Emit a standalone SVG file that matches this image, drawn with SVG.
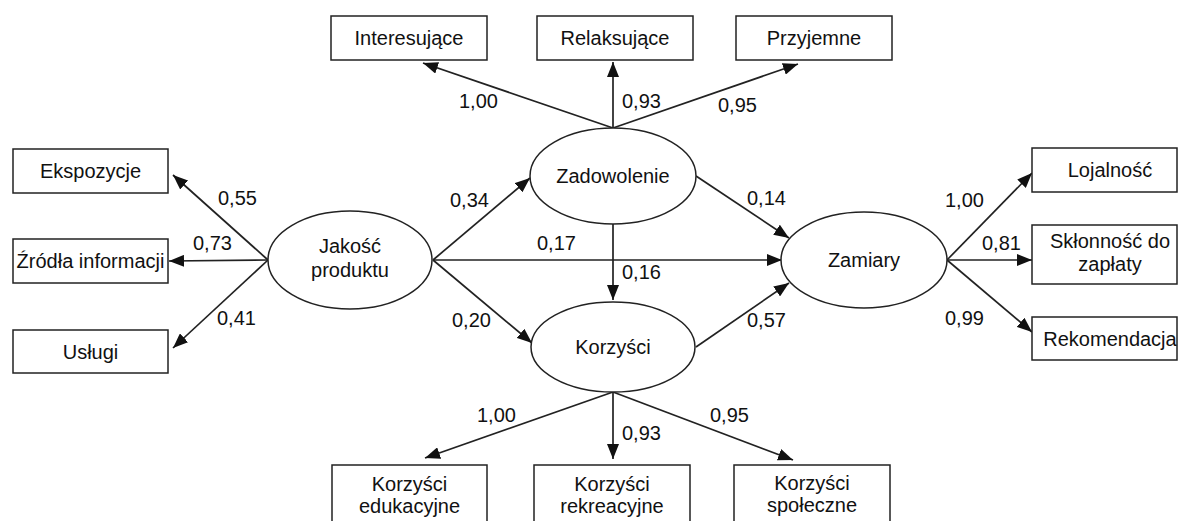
<svg xmlns="http://www.w3.org/2000/svg" width="1178" height="521" viewBox="0 0 1178 521">
<defs>
<style>
.box{fill:#fff;stroke:#222;stroke-width:1.5}
.ell{fill:#fff;stroke:#222;stroke-width:1.5}
.t{font-family:"Liberation Sans",Arial,sans-serif;font-size:20px;fill:#111;text-anchor:middle}
.l{font-family:"Liberation Sans",Arial,sans-serif;font-size:20px;fill:#111}
.c{stroke:#222;stroke-width:1.7;fill:none;marker-end:url(#ah)}
</style>
<marker id="ah" markerUnits="userSpaceOnUse" markerWidth="16" markerHeight="12" refX="15" refY="6" orient="auto">
<path d="M0,0 L15,6 L0,12 Z" fill="#111"/>
</marker>
</defs>
<rect width="1178" height="521" fill="#fff"/>
<g id="connectors">
<line class="c" x1="613" y1="128" x2="423" y2="63"/>
<line class="c" x1="613" y1="128" x2="613" y2="62"/>
<line class="c" x1="613" y1="128" x2="798" y2="64"/>
<line class="c" x1="268" y1="260" x2="173" y2="175"/>
<line class="c" x1="268" y1="260" x2="169" y2="261"/>
<line class="c" x1="268" y1="260" x2="173" y2="348"/>
<line class="c" x1="433" y1="260" x2="530" y2="178"/>
<line class="c" x1="433" y1="260" x2="532" y2="343"/>
<line class="c" x1="433" y1="260" x2="782" y2="260"/>
<line class="c" x1="613" y1="224" x2="613" y2="300"/>
<line class="c" x1="696" y1="176" x2="789" y2="238"/>
<line class="c" x1="696" y1="347" x2="789" y2="283"/>
<line class="c" x1="947" y1="260" x2="1032" y2="173"/>
<line class="c" x1="947" y1="260" x2="1032" y2="260"/>
<line class="c" x1="947" y1="260" x2="1032" y2="332"/>
<line class="c" x1="613" y1="392" x2="425" y2="458"/>
<line class="c" x1="613" y1="392" x2="613" y2="459"/>
<line class="c" x1="613" y1="392" x2="793" y2="460"/>
</g>
<g id="labels">
<text class="l" x="459" y="108">1,00</text>
<text class="l" x="622" y="108">0,93</text>
<text class="l" x="718" y="112">0,95</text>
<text class="l" x="218" y="205">0,55</text>
<text class="l" x="193" y="250">0,73</text>
<text class="l" x="217" y="325">0,41</text>
<text class="l" x="450" y="207">0,34</text>
<text class="l" x="537" y="250">0,17</text>
<text class="l" x="622" y="279">0,16</text>
<text class="l" x="452" y="327">0,20</text>
<text class="l" x="747" y="205">0,14</text>
<text class="l" x="747" y="327">0,57</text>
<text class="l" x="945" y="207">1,00</text>
<text class="l" x="982" y="250">0,81</text>
<text class="l" x="945" y="325">0,99</text>
<text class="l" x="477" y="422">1,00</text>
<text class="l" x="622" y="440">0,93</text>
<text class="l" x="710" y="422">0,95</text>
</g>
<g id="n_interesujace"><rect class="box" x="331" y="16" width="156" height="44"/><text class="t" x="409" y="45">Interesujące</text></g>
<g id="n_relaksujace"><rect class="box" x="537" y="16" width="156" height="44"/><text class="t" x="615" y="45">Relaksujące</text></g>
<g id="n_przyjemne"><rect class="box" x="736" y="16" width="156" height="44"/><text class="t" x="814" y="45">Przyjemne</text></g>
<g id="n_ekspozycje"><rect class="box" x="13" y="149" width="155" height="44"/><text class="t" x="90.5" y="178">Ekspozycje</text></g>
<g id="n_zrodla"><rect class="box" x="13" y="239" width="155" height="44"/><text class="t" x="90.5" y="268">Źródła informacji</text></g>
<g id="n_uslugi"><rect class="box" x="13" y="330" width="155" height="43"/><text class="t" x="90.5" y="359">Usługi</text></g>
<g id="n_jakosc"><ellipse class="ell" cx="350" cy="260" rx="82" ry="49"/><text class="t" x="350" y="253">Jakość</text><text class="t" x="350" y="277">produktu</text></g>
<g id="n_zadowolenie"><ellipse class="ell" cx="613" cy="176" rx="83" ry="48"/><text class="t" x="613" y="183">Zadowolenie</text></g>
<g id="n_korzysci"><ellipse class="ell" cx="613" cy="347" rx="82" ry="45"/><text class="t" x="613" y="354">Korzyści</text></g>
<g id="n_zamiary"><ellipse class="ell" cx="864" cy="260" rx="83" ry="48"/><text class="t" x="864" y="267">Zamiary</text></g>
<g id="n_lojalnosc"><rect class="box" x="1032" y="148" width="145" height="44"/><text class="t" x="1110" y="177">Lojalność</text></g>
<g id="n_sklonnosc"><rect class="box" x="1032" y="225" width="145" height="59"/><text class="t" x="1110" y="248">Skłonność do</text><text class="t" x="1110" y="271">zapłaty</text></g>
<g id="n_rekomendacja"><rect class="box" x="1032" y="317" width="145" height="43"/><text class="t" x="1110" y="346">Rekomendacja</text></g>
<g id="n_edukacyjne"><rect class="box" x="332" y="465" width="155" height="70"/><text class="t" x="409.5" y="491">Korzyści</text><text class="t" x="409.5" y="513">edukacyjne</text></g>
<g id="n_rekreacyjne"><rect class="box" x="534" y="465" width="156" height="70"/><text class="t" x="612" y="491">Korzyści</text><text class="t" x="612" y="513">rekreacyjne</text></g>
<g id="n_spoleczne"><rect class="box" x="734" y="465" width="156" height="70"/><text class="t" x="812" y="490">Korzyści</text><text class="t" x="812" y="512">społeczne</text></g>
</svg>
